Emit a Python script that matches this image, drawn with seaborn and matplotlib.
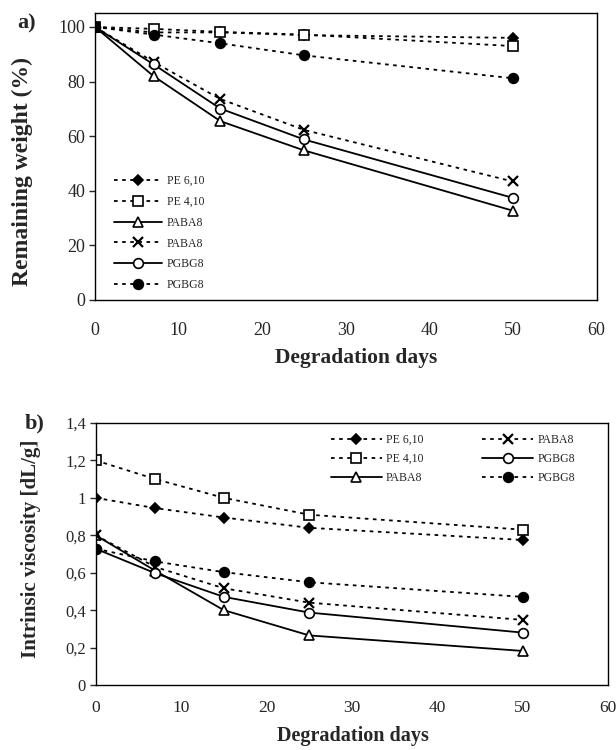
import numpy as np
import pandas as pd
import matplotlib
matplotlib.use("Agg")
import matplotlib.pyplot as plt
import seaborn as sns

# =========================
# DATA
# =========================
days = [0, 7, 15, 25, 50]

series_labels = ["PE 6,10", "PE 4,10", "PABA8", "PABA8", "PGBG8", "PGBG8"]

# a) remaining weight (%)
weight_pe610 = [100, 98, 98, 97, 96]
weight_pe410 = [100, 99.3, 98.2, 97.2, 93]
weight_paba8_tri = [100, 82, 65.5, 54.8, 32.7]
weight_paba8_x = [100, 87.2, 73.6, 62.3, 43.4]
weight_pgbg8_open = [100, 86.3, 70.1, 58.8, 37.4]
weight_pgbg8_fill = [100, 97.2, 94, 89.6, 81.2]

# b) intrinsic viscosity (dL/g)
visc_pe610 = [1.0, 0.945, 0.895, 0.84, 0.775]
visc_pe410 = [1.2, 1.1, 1.0, 0.91, 0.83]
visc_paba8_tri = [0.8, 0.61, 0.40, 0.265, 0.182]
visc_paba8_x = [0.8, 0.63, 0.517, 0.44, 0.348]
visc_pgbg8_open = [0.728, 0.597, 0.471, 0.387, 0.28]
visc_pgbg8_fill = [0.728, 0.66, 0.603, 0.549, 0.471]

x_ticks = [0, 10, 20, 30, 40, 50, 60]
weight_ticks = [0, 20, 40, 60, 80, 100]
visc_ticks = [0, 0.2, 0.4, 0.6, 0.8, 1.0, 1.2, 1.4]
visc_tick_labels = ["0", "0,2", "0,4", "0,6", "0,8", "1", "1,2", "1,4"]

# =========================
# STYLE
# =========================
sns.set_style("ticks")
plt.rcParams['font.family'] = ['Liberation Serif', 'DejaVu Serif']

W, H = 616, 750
DOT = (0, (2, 2.5))
styles = [
    dict(marker="D", markersize=5, mfc="black", linestyle=DOT),
    dict(marker="s", markersize=6.5, mfc="white", linestyle=DOT),
    dict(marker="^", markersize=6.5, mfc="white", linestyle="-"),
    dict(marker="x", markersize=6.5, mfc="black", linestyle=DOT, mew=1.6),
    dict(marker="o", markersize=7, mfc="white", linestyle="-"),
    dict(marker="o", markersize=7, mfc="black", linestyle=DOT),
]


def draw(ax, values):
    for vals, lab, st in zip(values, series_labels, styles):
        kw = dict(color="black", linewidth=1.3, mec="black")
        if "mew" not in st:
            kw["mew"] = 1.2
        kw.update(st)
        df = pd.DataFrame({"day": days, "val": vals})
        sns.lineplot(data=df, x="day", y="val", ax=ax, label=lab, **kw)
    for s in ax.spines.values():
        s.set_visible(True)
        s.set_color("black")
        s.set_linewidth(1.0)
    ax.set_xlabel("")
    ax.set_ylabel("")


def px(x, y):
    return x / W, 1 - y / H


fig = plt.figure(figsize=(6.16, 7.5), dpi=100)

# =========================
# PANEL A
# =========================
ax1 = fig.add_axes([95 / W, 1 - 300 / H, 501.5 / W, 286.7 / H])
draw(ax1, [weight_pe610, weight_pe410, weight_paba8_tri,
           weight_paba8_x, weight_pgbg8_open, weight_pgbg8_fill])
ax1.set_xlim(0, 60)
ax1.set_ylim(0, 105)
ax1.set_xticks(x_ticks)
ax1.set_yticks(weight_ticks)
ax1.tick_params(axis="x", length=0, pad=16, labelsize=13)
ax1.tick_params(axis="y", length=4, width=1, labelsize=13, pad=3)
ax1.legend(loc="upper left", bbox_to_anchor=px(114, 175), bbox_transform=fig.transFigure,
           frameon=False, fontsize=8.5, handlelength=4.1, labelspacing=0.75,
           handletextpad=0.35, borderaxespad=0, borderpad=0)
fig.text(*px(22, 172), "Remaining weight (%)", rotation=90, ha="center", va="center",
         fontsize=17, fontweight="bold")
fig.text(*px(356, 358), "Degradation days", ha="center", va="center",
         fontsize=15.5, fontweight="bold")
fig.text(*px(17, 23), "a)", fontsize=16, fontweight="bold", va="center")

# =========================
# PANEL B
# =========================
ax2 = fig.add_axes([95.7 / W, 1 - 685 / H, 512.3 / W, 262 / H])
draw(ax2, [visc_pe610, visc_pe410, visc_paba8_tri,
           visc_paba8_x, visc_pgbg8_open, visc_pgbg8_fill])
ax2.set_xlim(0, 60)
ax2.set_ylim(0, 1.4)
ax2.set_xticks(x_ticks)
ax2.set_yticks(visc_ticks)
ax2.set_yticklabels(visc_tick_labels)
ax2.tick_params(axis="x", length=0, pad=11, labelsize=12.5)
ax2.tick_params(axis="y", length=4, width=1, labelsize=12, pad=3)
ax2.legend(loc="upper left", bbox_to_anchor=px(331, 434), bbox_transform=fig.transFigure,
           ncol=2, frameon=False, fontsize=8.5, handlelength=4.3, labelspacing=0.6,
           handletextpad=0.35, columnspacing=5.0, borderaxespad=0, borderpad=0)
fig.text(*px(31, 549), "Intrinsic viscosity [dL/g]", rotation=90, ha="center", va="center",
         fontsize=15, fontweight="bold")
fig.text(*px(353, 736), "Degradation days", ha="center", va="center",
         fontsize=14.5, fontweight="bold")
fig.text(*px(25, 423), "b)", fontsize=16, fontweight="bold", va="center")

fig.savefig("out.png", dpi=100)
